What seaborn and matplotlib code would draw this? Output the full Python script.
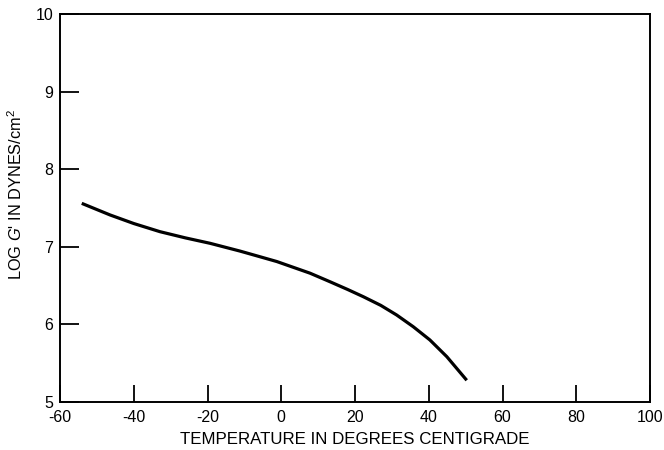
import matplotlib
matplotlib.use("Agg")
import matplotlib.pyplot as plt
import seaborn as sns
import pandas as pd

temperature = [-54.1, -50, -46.4, -40, -32.9, -26, -19.3, -11.2, -6, -1.2, 3, 7.8, 13.2, 18, 22.25, 27, 31.3, 35.8, 40.3, 44.9, 50.3]
log_g = [7.56, 7.48, 7.41, 7.30, 7.195, 7.115, 7.045, 6.945, 6.875, 6.81, 6.74, 6.66, 6.55, 6.45, 6.357, 6.245, 6.121, 5.97, 5.80, 5.584, 5.28]
x_ticks = [-60, -40, -20, 0, 20, 40, 60, 80, 100]
y_ticks = [5, 6, 7, 8, 9, 10]

sns.set_style("white")
plt.rcParams['font.family'] = ['Liberation Sans', 'DejaVu Sans']
plt.rcParams['mathtext.fontset'] = 'custom'
plt.rcParams['mathtext.rm'] = 'Liberation Sans'
plt.rcParams['mathtext.it'] = 'Liberation Sans:italic'
plt.rcParams['text.color'] = 'black'
plt.rcParams['axes.labelcolor'] = 'black'
plt.rcParams['lines.solid_capstyle'] = 'butt'
plt.rcParams['lines.solid_joinstyle'] = 'round'

df = pd.DataFrame({"T": temperature, "G": log_g})

fig = plt.figure(figsize=(6.64, 4.5), dpi=100)
ax = fig.add_axes([60/664, 48/450, 590/664, 388/450])
sns.lineplot(data=df, x="T", y="G", ax=ax, color="black", linewidth=2.3)

ax.set_xlim(-60, 100)
ax.set_ylim(5, 10)
ax.set_xticks(x_ticks)
ax.set_yticks(y_ticks)
ax.set_xticklabels([str(t) for t in x_ticks])
ax.tick_params(axis="both", direction="in", length=12, width=1.3, labelsize=11.5,
               colors="black", bottom=True, left=True, top=False, right=False)
ax.tick_params(axis="y", length=14, pad=5)
ax.tick_params(axis="x", pad=6)
for s in ax.spines.values():
    s.set_linewidth(1.4)
    s.set_color("black")

ax.set_xlabel("TEMPERATURE IN DEGREES CENTIGRADE", fontsize=12.2, labelpad=5)
ax.set_ylabel(r"LOG $\mathit{G}$' IN DYNES/cm$^2$", fontsize=11.8)
ax.yaxis.set_label_coords(-0.06, 0.535)

fig.savefig("out.png", dpi=100)
